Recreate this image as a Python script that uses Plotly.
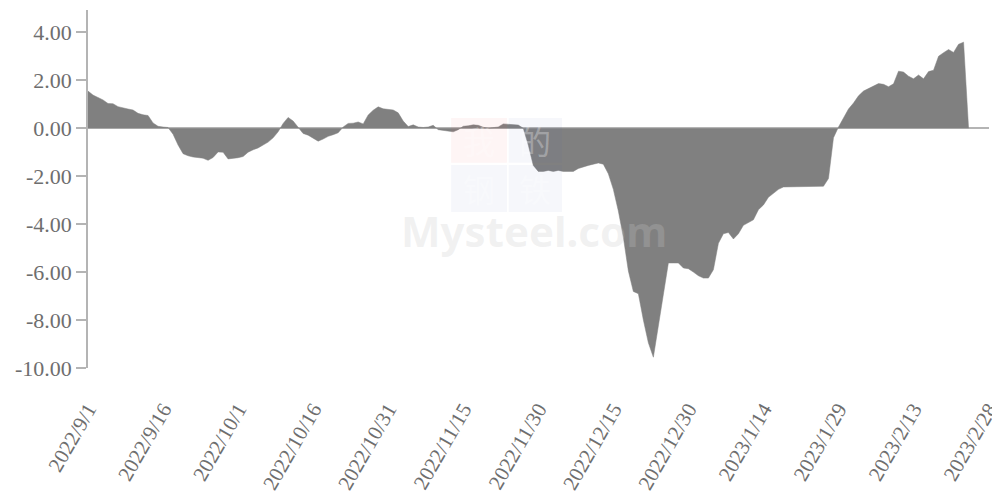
import datetime as dt
import plotly.graph_objects as go

start_date = "2022-09-01"
end_date = "2023-02-28"

# daily values, starting 2022-09-01
values = [
    1.55, 1.38, 1.28, 1.18, 1.03, 1.02, 0.90, 0.84, 0.80, 0.76,
    0.62, 0.56, 0.53, 0.22, 0.08, 0.05, 0.03, -0.25, -0.70, -1.06,
    -1.15, -1.20, -1.24, -1.25, -1.34, -1.22, -0.99, -1.00, -1.28, -1.27,
    -1.23, -1.18, -1.00, -0.90, -0.82, -0.70, -0.58, -0.40, -0.15, 0.20,
    0.45, 0.30, 0.05, -0.22, -0.29, -0.40, -0.54, -0.45, -0.34, -0.27,
    -0.19, 0.05, 0.20, 0.21, 0.26, 0.18, 0.55, 0.75, 0.89, 0.81,
    0.80, 0.76, 0.64, 0.30, 0.07, 0.14, 0.05, 0.03, 0.05, 0.12,
    -0.06, -0.10, -0.12, -0.15, -0.06, 0.08, 0.10, 0.14, 0.12, 0.04,
    0.00, 0.02, 0.05, 0.18, 0.17, 0.15, 0.13, 0.00, -0.70, -1.55,
    -1.80, -1.80, -1.76, -1.80, -1.76, -1.80, -1.80, -1.80, -1.68, -1.60,
    -1.55, -1.50, -1.45, -1.50, -1.90, -2.55, -3.45, -4.55, -5.95, -6.81,
    -6.90, -8.00, -8.95, -9.55, -8.25, -6.85, -5.62, -5.62, -5.62, -5.83,
    -5.86, -6.00, -6.15, -6.25, -6.25, -5.90, -4.80, -4.40, -4.35, -4.62,
    -4.40, -4.05, -3.95, -3.82, -3.40, -3.20, -2.88, -2.70, -2.55, -2.45,
    -2.45, -2.45, -2.45, -2.45, -2.45, -2.45, -2.45, -2.42, -2.10, -0.40,
    0.05, 0.45, 0.80, 1.05, 1.35, 1.55, 1.65, 1.73, 1.86, 1.83,
    1.73, 1.85, 2.38, 2.34, 2.17, 2.06, 2.22, 2.06, 2.36, 2.42,
    3.00, 3.15, 3.28, 3.16, 3.50, 3.59, 0.00,
]

tick_labels = [
    "2022/9/1", "2022/9/16", "2022/10/1", "2022/10/16", "2022/10/31",
    "2022/11/15", "2022/11/30", "2022/12/15", "2022/12/30", "2023/1/14",
    "2023/1/29", "2023/2/13", "2023/2/28",
]
y_ticks = [4, 2, 0, -2, -4, -6, -8, -10]

d0 = dt.date.fromisoformat(start_date)
dates = [d0 + dt.timedelta(days=i) for i in range(len(values))]
tick_dates = [dt.datetime.strptime(t, "%Y/%m/%d").date() for t in tick_labels]
x_end = dt.datetime.fromisoformat(end_date) + dt.timedelta(hours=2)

FONT = "Liberation Serif, Times New Roman, serif"
TEXT = "#6e6e6e"
AXIS = "#b4b4b4"

fig = go.Figure()
fig.add_trace(go.Scatter(
    x=dates, y=values, mode="lines", fill="tozeroy",
    fillcolor="#808080", line=dict(color="#808080", width=0.5),
    hoverinfo="x+y", showlegend=False,
))

# faint watermark (logo squares + text)
wm_boxes = [
    (0.403, 0.465, 0.573, 0.698, "rgba(235,90,90,0.06)", "我"),
    (0.467, 0.526, 0.573, 0.698, "rgba(70,100,180,0.05)", "的"),
    (0.403, 0.465, 0.436, 0.567, "rgba(70,100,180,0.05)", "钢"),
    (0.467, 0.526, 0.436, 0.567, "rgba(70,100,180,0.05)", "铁"),
]
for x0, x1, y0, y1, col, ch in wm_boxes:
    fig.add_shape(type="rect", xref="paper", yref="paper",
                  x0=x0, x1=x1, y0=y0, y1=y1, fillcolor=col,
                  line=dict(width=0), layer="above")
    fig.add_annotation(x=(x0 + x1) / 2, y=(y0 + y1) / 2, xref="paper", yref="paper",
                       text=ch, showarrow=False,
                       font=dict(family="Noto Sans CJK SC", size=32,
                                 color="rgba(255,255,255,0.3)"))
fig.add_annotation(x=0.495, y=0.385, xref="paper", yref="paper",
                   text="<b>Mysteel.com</b>", showarrow=False,
                   font=dict(family="Noto Sans, sans-serif", size=42,
                             color="rgba(200,200,200,0.25)"))

# the page body adds an 8px offset, so the figure is 8px smaller
fig.update_layout(
    width=992, height=490,
    margin=dict(l=80, r=11, t=2, b=130),
    plot_bgcolor="white", paper_bgcolor="white",
    font=dict(family=FONT, color=TEXT, size=22),
    xaxis=dict(
        range=[start_date, x_end], automargin=False,
        tickmode="array", tickvals=tick_dates, ticktext=tick_labels,
        tickangle=-60, ticks="", ticklabelstandoff=24, ticklabelshift=0,
        ticklabeloverflow="allow",
        showgrid=False, showline=False, zeroline=False,
        tickfont=dict(family=FONT, color=TEXT, size=21),
    ),
    yaxis=dict(
        range=[-10, 4.93], automargin=False,
        tickmode="array", tickvals=y_ticks,
        ticktext=[f"{v:.2f}" for v in y_ticks],
        ticks="outside", ticklen=10, tickcolor=AXIS, tickwidth=1.5,
        showline=True, linecolor=AXIS, linewidth=1.5,
        showgrid=False, zeroline=True, zerolinecolor=AXIS, zerolinewidth=2,
        tickfont=dict(family=FONT, color=TEXT, size=22),
    ),
)

fig.write_html("out.html")
